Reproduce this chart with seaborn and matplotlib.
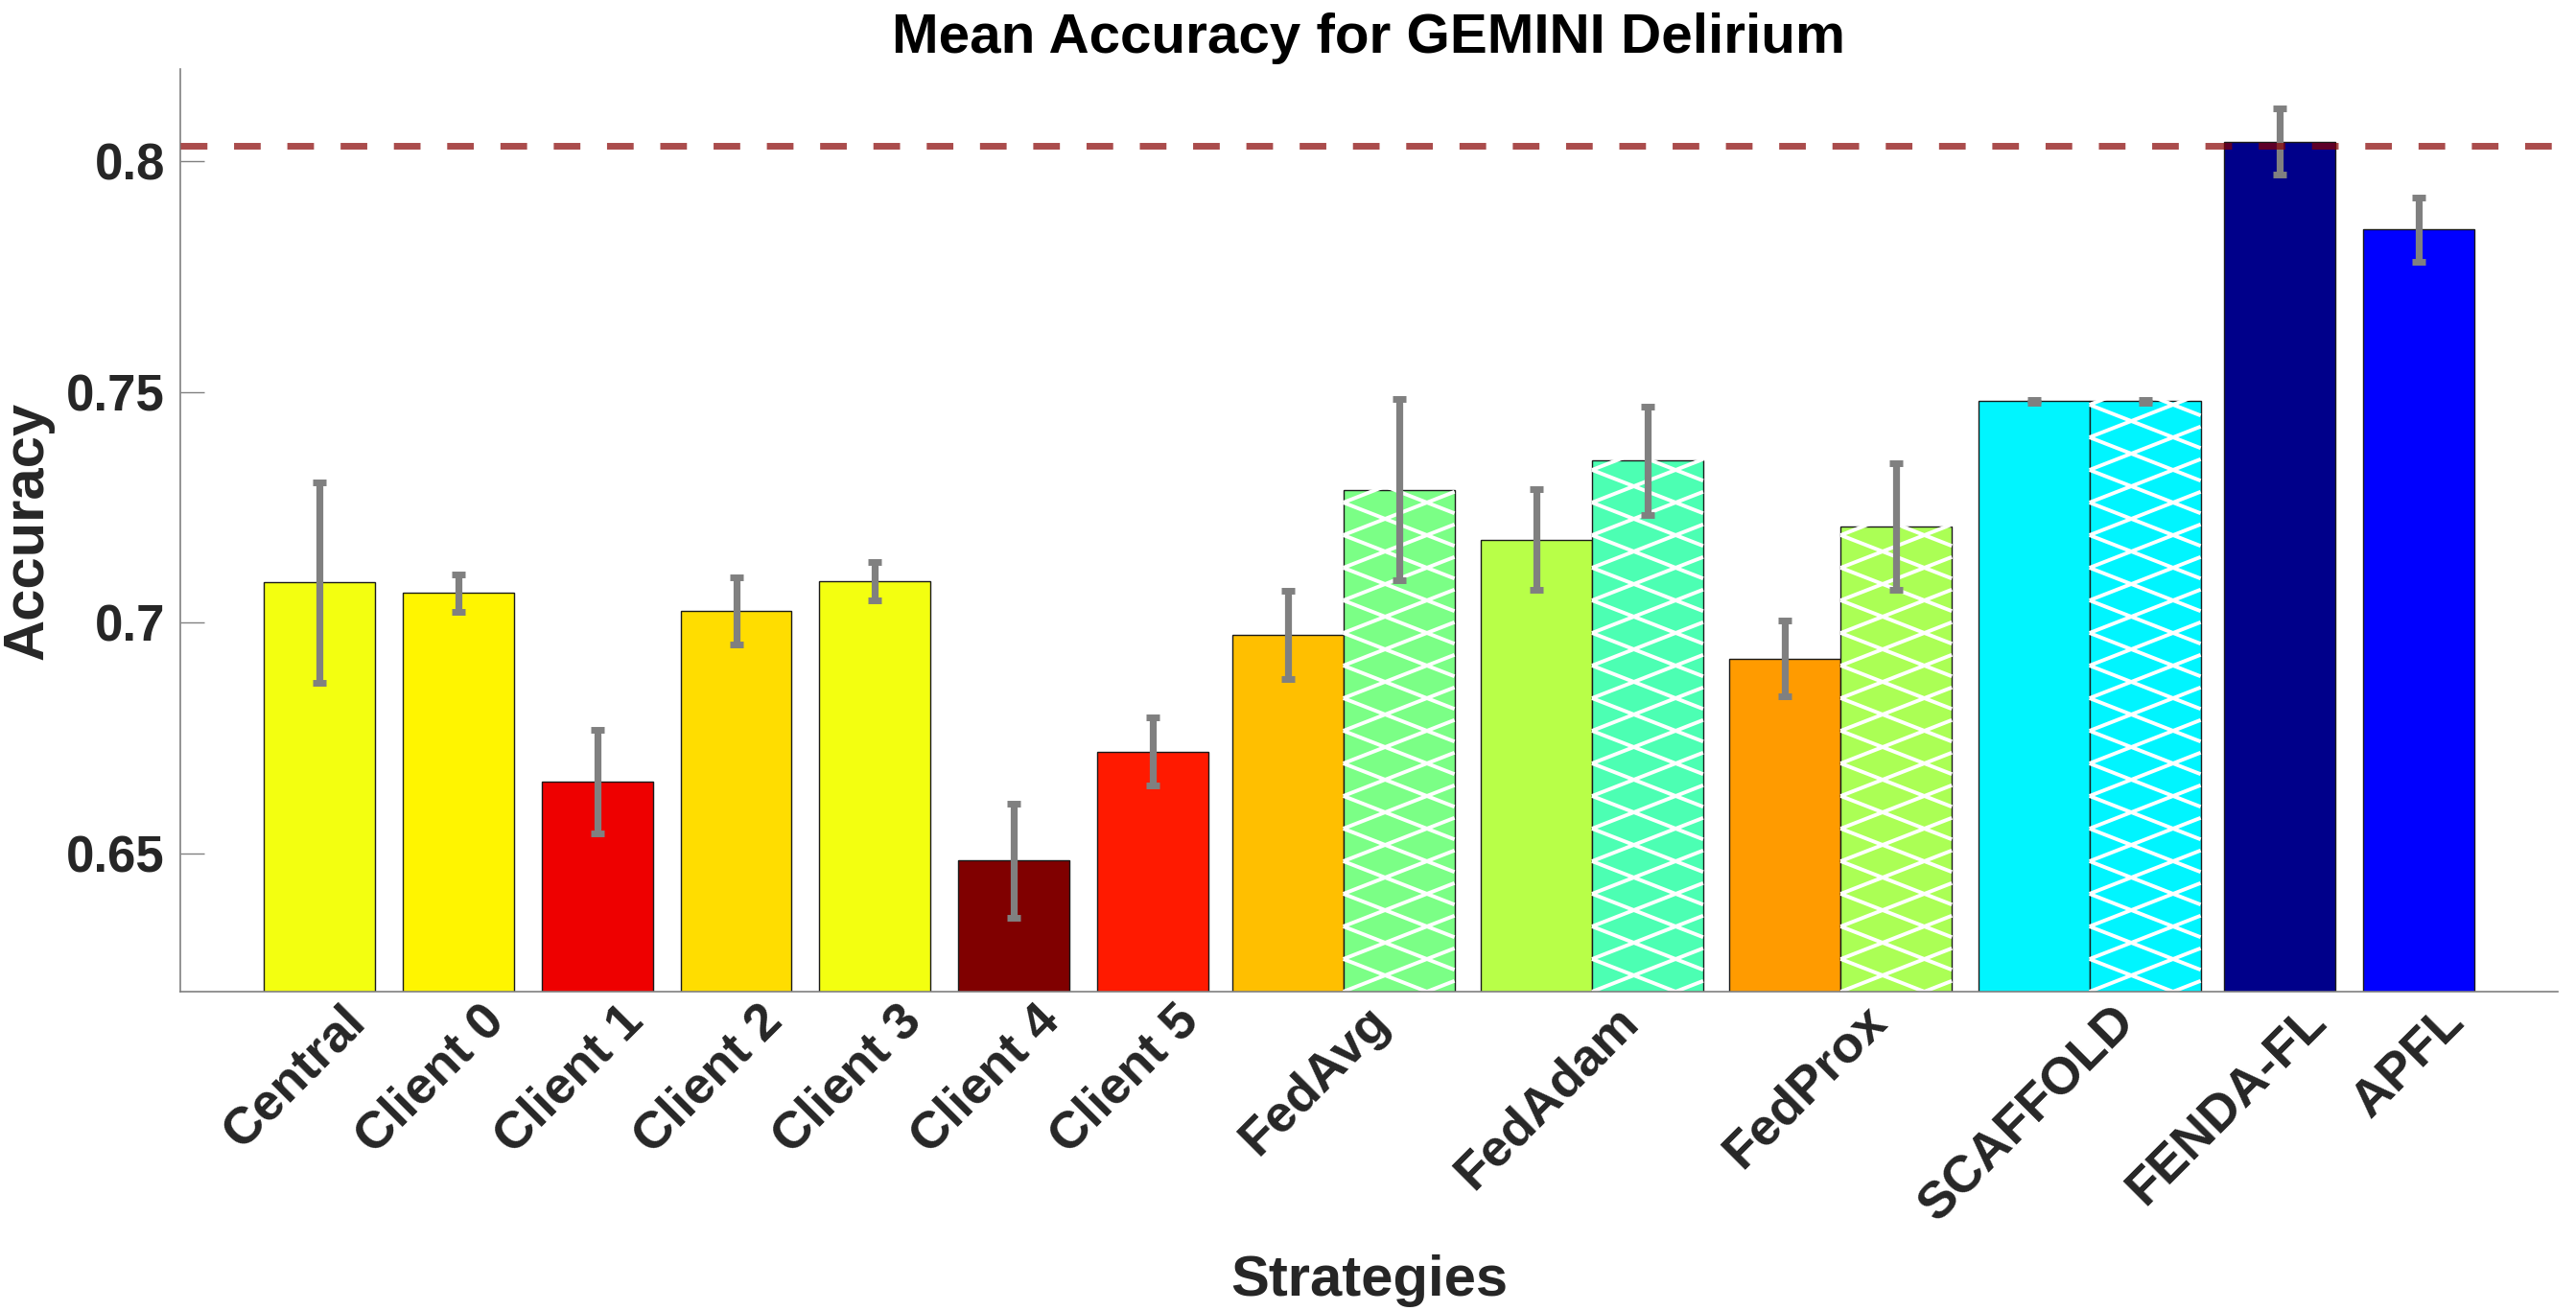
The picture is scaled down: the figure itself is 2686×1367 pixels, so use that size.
import numpy as np
import pandas as pd
import matplotlib
matplotlib.use("Agg")
import matplotlib.pyplot as plt
import matplotlib.transforms as mtrans
import seaborn as sns

# -------------------------
# data
# -------------------------
labels = ["Central", "Client 0", "Client 1", "Client 2", "Client 3", "Client 4",
          "Client 5", "FedAvg", "FedAdam", "FedProx", "SCAFFOLD", "FENDA-FL", "APFL"]
acc_mean = [0.7087, 0.7064, 0.6656, 0.7025, 0.7090, 0.6484, 0.6720,
            0.6974, 0.7180, 0.6922, 0.7480, 0.8043, 0.7852]
acc_std = [0.0218, 0.0040, 0.0112, 0.0073, 0.0042, 0.0123, 0.0074,
           0.0096, 0.0109, 0.0082, 0.0003, 0.0071, 0.0069]
bar_colors = ["#F3FF10", "#FFF500", "#EE0000", "#FFDD00", "#F3FF10", "#800000",
              "#FF1A00", "#FFBF00", "#B8FF48", "#FF9B00", "#00F5FF", "#00008A", "#0000FF"]

# second (hatched) bar of the paired strategies
paired = ["FedAvg", "FedAdam", "FedProx", "SCAFFOLD"]
paired_mean = [0.7288, 0.7351, 0.7208, 0.7480]
paired_std = [0.0196, 0.0118, 0.0137, 0.0003]
paired_colors = ["#7BFF86", "#4CFFB3", "#ABFF55", "#00F5FF"]

baseline_acc = 0.8033
yticks = [0.65, 0.7, 0.75, 0.8]

# -------------------------
# layout of the bar positions
# -------------------------
centers = []
pos = 1.0
for i, lab in enumerate(labels):
    if i > 0:
        prev_p = labels[i - 1] in paired
        cur_p = lab in paired
        if prev_p and cur_p:
            pos += 1.79
        elif prev_p or cur_p:
            pos += 1.37
        else:
            pos += 1.0
    centers.append(pos)

xs, ys, errs, keys, cols, hatched = [], [], [], [], [], []
for lab, c, m, s, col in zip(labels, centers, acc_mean, acc_std, bar_colors):
    if lab in paired:
        j = paired.index(lab)
        xs += [c - 0.4, c + 0.4]
        ys += [m, paired_mean[j]]
        errs += [s, paired_std[j]]
        keys += [lab, lab + " (h)"]
        cols += [col, paired_colors[j]]
        hatched.append(c + 0.4)
    else:
        xs.append(c)
        ys.append(m)
        errs.append(s)
        keys.append(lab)
        cols.append(col)

df = pd.DataFrame({"x": xs, "acc": ys, "key": keys})

# -------------------------
# plot
# -------------------------
sns.set_theme(style="white")
plt.rcParams["font.family"] = ["Liberation Sans", "DejaVu Sans"]
plt.rcParams["font.weight"] = "bold"

fig, ax = plt.subplots(figsize=(13.43, 6.835), dpi=200)
fig.subplots_adjust(left=0.070, right=0.9929, top=0.9473, bottom=0.2436)

sns.barplot(data=df, x="x", y="acc", hue="key", hue_order=keys,
            palette=dict(zip(keys, cols)), native_scale=True, width=1.0,
            dodge=False, errorbar=None, legend=False, saturation=1,
            edgecolor="#1a1a1a", linewidth=0.5, ax=ax)

ax.set_xlim(0, 17.11)
ax.set_ylim(0.62, 0.82)

# hatch: white crossed lines, shallow angle, clipped to the bar
fig.canvas.draw()
p0 = ax.transData.transform((0, 0.62))
p1 = ax.transData.transform((1, 0.67))
sx = p1[0] - p0[0]
sy = (p1[1] - p0[1]) / 0.05
period = 34 / sy
slope = 0.39 * sx / sy
for patch in ax.patches:
    xc = patch.get_x() + patch.get_width() / 2
    if not any(abs(xc - h) < 1e-6 for h in hatched):
        continue
    xl = patch.get_x()
    xr = xl + patch.get_width()
    top = patch.get_height()
    w = xr - xl
    k0 = int(np.floor(-slope * w / period)) - 1
    k1 = int(np.ceil((top + slope * w - 0.62) / period)) + 1
    for k in range(k0, k1 + 1):
        y = 0.62 + k * period
        for sgn in (1, -1):
            ax.plot([xl, xr], [y, y + sgn * slope * w], color="white", lw=1.4,
                    solid_capstyle="butt", clip_path=patch, zorder=1.5)

ax.errorbar(xs, ys, yerr=errs, fmt="none", ecolor="#808080", elinewidth=2.6,
            capsize=2.5, capthick=2.5, zorder=3)

ax.axhline(baseline_acc, color="#860000", alpha=0.7, lw=2.5, dashes=(4, 4), zorder=4)

# axes styling
sns.despine(ax=ax)
for sp in ["left", "bottom"]:
    ax.spines[sp].set_color("#808080")
    ax.spines[sp].set_linewidth(0.6)

ax.set_yticks(yticks)
ax.set_yticklabels([f"{v:g}" for v in yticks])
ax.tick_params(axis="y", direction="in", length=9, width=0.5, color="#808080",
               labelsize=19, labelcolor="#262626", pad=5.8, left=True)
ax.set_xticks(centers)
ax.set_xticklabels(labels, rotation=45, ha="right", va="center",
                   rotation_mode="anchor", fontsize=19.5, color="#262626")
ax.tick_params(axis="x", length=0, pad=8.3)
offset = mtrans.ScaledTranslation(40 / 200, 0, fig.dpi_scale_trans)
for lab in ax.get_xticklabels():
    lab.set_transform(lab.get_transform() + offset)

ax.set_xlabel("Strategies", fontsize=21.5, fontweight="bold", color="#262626")
ax.xaxis.set_label_coords(0.5, -0.285)
ax.set_ylabel("Accuracy", fontsize=21.5, fontweight="bold", color="#262626")
ax.yaxis.set_label_coords(-0.053, 0.5)
ax.set_title("Mean Accuracy for GEMINI Delirium", fontsize=21, fontweight="bold",
             color="black", pad=6)

fig.savefig("out.png", dpi=200)
